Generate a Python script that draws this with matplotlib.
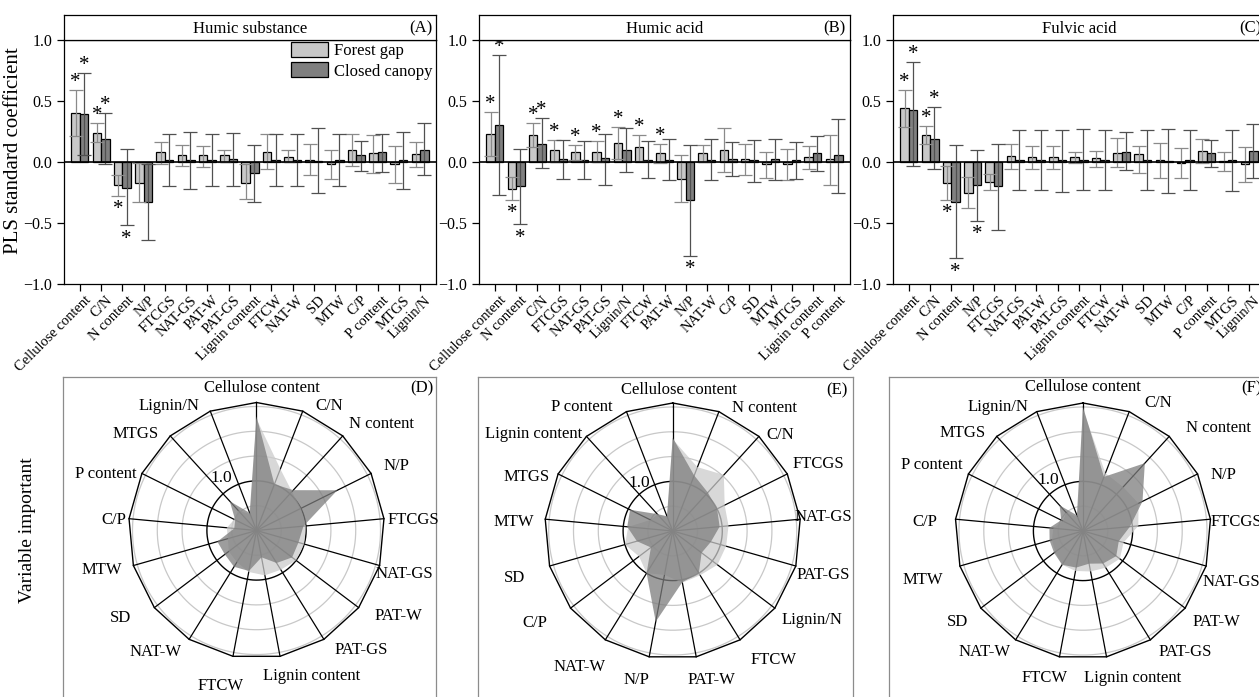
import matplotlib
matplotlib.use('Agg')
import matplotlib.pyplot as plt
import matplotlib.transforms as mtransforms
import numpy as np
from matplotlib.patches import Patch

plt.rcParams['font.family'] = ['Liberation Serif', 'DejaVu Serif']
plt.rcParams['axes.unicode_minus'] = True

# ---------------- data ----------------
cats_A = ['Cellulose content', 'C/N', 'N content', 'N/P', 'FTCGS', 'NAT-GS', 'PAT-W', 'PAT-GS',
          'Lignin content', 'FTCW', 'NAT-W', 'SD', 'MTW', 'C/P', 'P content', 'MTGS', 'Lignin/N']
A_fg = [0.40, 0.24, -0.19, -0.17, 0.08, 0.06, 0.055, 0.06, -0.17, 0.085, 0.045, 0.02, -0.015, 0.10, 0.07, -0.015, 0.065]
A_fg_hi = [0.59, 0.32, -0.11, -0.01, 0.16, 0.14, 0.13, 0.10, -0.02, 0.23, 0.10, 0.15, 0.10, 0.23, 0.22, 0.13, 0.16]
A_fg_lo = [0.21, 0.16, -0.28, -0.33, -0.02, -0.03, -0.04, 0.00, -0.30, -0.06, 0.00, -0.11, -0.14, -0.03, -0.09, -0.17, -0.04]
A_cc = [0.39, 0.19, -0.21, -0.33, 0.02, 0.02, 0.02, 0.025, -0.09, 0.02, 0.02, 0.01, 0.02, 0.06, 0.08, 0.02, 0.10]
A_cc_hi = [0.73, 0.40, 0.11, -0.02, 0.23, 0.25, 0.23, 0.24, 0.14, 0.23, 0.23, 0.28, 0.23, 0.17, 0.23, 0.25, 0.32]
A_cc_lo = [0.06, -0.02, -0.52, -0.64, -0.20, -0.22, -0.20, -0.20, -0.33, -0.20, -0.20, -0.25, -0.20, -0.07, -0.08, -0.22, -0.11]
A_fg_sig = [1, 1, 1, 0, 0, 0, 0, 0, 0, 0, 0, 0, 0, 0, 0, 0, 0]
A_cc_sig = [1, 1, 1, 0, 0, 0, 0, 0, 0, 0, 0, 0, 0, 0, 0, 0, 0]

cats_B = ['Cellulose content', 'N content', 'C/N', 'FTCGS', 'NAT-GS', 'PAT-GS', 'Lignin/N', 'FTCW',
          'PAT-W', 'N/P', 'NAT-W', 'C/P', 'SD', 'MTW', 'MTGS', 'Lignin content', 'P content']
B_fg = [0.23, -0.22, 0.225, 0.10, 0.08, 0.08, 0.155, 0.12, 0.07, -0.14, 0.075, 0.10, 0.025, -0.02, -0.02, 0.045, 0.025]
B_fg_hi = [0.41, -0.12, 0.32, 0.18, 0.14, 0.17, 0.29, 0.225, 0.15, 0.06, 0.14, 0.28, 0.15, 0.08, 0.11, 0.135, 0.225]
B_fg_lo = [0.05, -0.31, 0.12, 0.0, 0.02, 0.0, 0.025, 0.01, -0.01, -0.33, 0.0, -0.08, -0.11, -0.13, -0.15, -0.055, -0.19]
B_cc = [0.30, -0.20, 0.15, 0.025, 0.015, 0.03, 0.10, 0.02, 0.02, -0.31, 0.02, 0.025, 0.015, 0.025, 0.02, 0.07, 0.06]
B_cc_hi = [0.88, 0.11, 0.36, 0.18, 0.17, 0.23, 0.28, 0.17, 0.19, 0.14, 0.19, 0.165, 0.18, 0.19, 0.165, 0.21, 0.355]
B_cc_lo = [-0.27, -0.51, -0.05, -0.14, -0.14, -0.19, -0.08, -0.13, -0.15, -0.77, -0.15, -0.115, -0.165, -0.15, -0.14, -0.07, -0.255]
B_fg_sig = [1, 1, 1, 1, 1, 1, 1, 1, 1, 0, 0, 0, 0, 0, 0, 0, 0]
B_cc_sig = [1, 1, 1, 0, 0, 0, 0, 0, 0, 1, 0, 0, 0, 0, 0, 0, 0]

cats_C = cats_A
C_fg = [0.44, 0.22, -0.17, -0.25, -0.165, 0.05, 0.04, 0.04, 0.04, 0.03, 0.075, 0.065, 0.015, -0.01, 0.09, 0.01, -0.015]
C_fg_hi = [0.59, 0.295, -0.035, -0.12, -0.10, 0.145, 0.13, 0.13, 0.08, 0.09, 0.20, 0.13, 0.155, 0.115, 0.19, 0.08, 0.125]
C_fg_lo = [0.29, 0.15, -0.31, -0.38, -0.23, -0.055, -0.06, -0.055, -0.01, -0.04, -0.04, -0.09, -0.135, -0.135, -0.01, -0.075, -0.16]
C_cc = [0.43, 0.19, -0.33, -0.19, -0.20, 0.02, 0.02, 0.015, 0.02, 0.02, 0.085, 0.02, 0.01, 0.02, 0.07, 0.015, 0.09]
C_cc_hi = [0.82, 0.45, 0.14, 0.10, 0.15, 0.26, 0.26, 0.26, 0.27, 0.26, 0.25, 0.26, 0.27, 0.26, 0.18, 0.26, 0.315]
C_cc_lo = [-0.035, -0.06, -0.79, -0.48, -0.56, -0.23, -0.23, -0.245, -0.23, -0.23, -0.065, -0.23, -0.25, -0.23, -0.045, -0.24, -0.135]
C_fg_sig = [1, 1, 1, 0, 0, 0, 0, 0, 0, 0, 0, 0, 0, 0, 0, 0, 0]
C_cc_sig = [1, 1, 1, 1, 0, 0, 0, 0, 0, 0, 0, 0, 0, 0, 0, 0, 0]

# VIP (radar) values, same category order as the bar panel above each
D_fg = [2.25, 1.33, 1.06, 1.0, 1.0, 1.0, 1.0, 0.93, 0.92, 0.85, 0.75, 0.7, 0.6, 0.6, 0.5, 0.55, 0.35]
D_cc = [2.3, 1.0, 1.1, 1.82, 0.95, 0.88, 0.9, 0.77, 0.55, 0.83, 0.86, 0.8, 0.82, 0.45, 0.48, 0.8, 0.38]
E_fg = [1.85, 1.38, 1.53, 1.17, 1.13, 1.12, 1.13, 1.05, 1.06, 0.9, 1.0, 0.85, 1.0, 0.9, 0.5, 0.45, 0.3]
E_cc = [1.88, 1.2, 1.05, 1.0, 0.95, 0.8, 0.73, 1.0, 1.05, 1.86, 1.0, 0.55, 0.75, 0.92, 0.96, 0.46, 0.32]
F_fg = [2.45, 1.25, 1.2, 1.25, 1.12, 0.85, 0.93, 0.87, 0.83, 0.82, 0.8, 0.7, 0.65, 0.6, 0.45, 0.5, 0.3]
F_cc = [2.5, 1.17, 1.85, 1.34, 0.95, 0.75, 0.84, 0.77, 0.67, 0.75, 0.8, 0.73, 0.7, 0.68, 0.49, 0.7, 0.34]

ytick_vals = [-1.0, -0.5, 0.0, 0.5, 1.0]
ytick_labels = ['\u22121.0', '\u22120.5', '0.0', '0.5', '1.0']

# ---------------- style ----------------
FG_C = '#c8c8c8'
CC_C = '#808080'
FG_E = '#8a8a8a'
CC_E = '#505050'
FG_R = '#cbcbcb'
CC_R = '#7d7d7d'

W, H = 1259, 697
fig = plt.figure(figsize=(W / 100, H / 100), dpi=100)


def add_axes_px(x0, y0, x1, y1, **kw):
    return fig.add_axes([x0 / W, 1 - y1 / H, (x1 - x0) / W, (y1 - y0) / H], **kw)


def bar_panel(box, cats, fg, fg_lo, fg_hi, cc, cc_lo, cc_hi, fg_sig, cc_sig, title, tag, legend=False):
    x0, y0, x1, y1 = box
    ax = add_axes_px(x0, y0, x1, y1)
    n = len(cats)
    x = np.arange(n)
    w = 0.4
    fg = np.array(fg); cc = np.array(cc)
    fg_lo = np.array(fg_lo); fg_hi = np.array(fg_hi)
    cc_lo = np.array(cc_lo); cc_hi = np.array(cc_hi)
    ax.bar(x - w / 2, fg, w, color=FG_C, edgecolor='black', linewidth=0.9, zorder=2, label='Forest gap')
    ax.bar(x + w / 2, cc, w, color=CC_C, edgecolor='black', linewidth=0.9, zorder=2, label='Closed canopy')
    ax.errorbar(x - w / 2, fg, yerr=[np.abs(fg - fg_lo), np.abs(fg_hi - fg)], fmt='none', ecolor=FG_E,
                elinewidth=0.9, capsize=5, capthick=0.9, zorder=3)
    ax.errorbar(x + w / 2, cc, yerr=[np.abs(cc - cc_lo), np.abs(cc_hi - cc)], fmt='none', ecolor=CC_E,
                elinewidth=0.9, capsize=5, capthick=0.9, zorder=3)
    ax.axhline(0, color='black', lw=1.2, zorder=4)
    for xs, vals, lo, hi, sig in [(x - w / 2, fg, fg_lo, fg_hi, fg_sig), (x + w / 2, cc, cc_lo, cc_hi, cc_sig)]:
        for xi, v, l, h, s in zip(xs, vals, lo, hi, sig):
            if s:
                if v >= 0:
                    ax.text(xi, h + 0.025, '*', ha='center', va='baseline', fontsize=15, zorder=5)
                else:
                    ax.text(xi, l - 0.15, '*', ha='center', va='baseline', fontsize=15, zorder=5)
    ax.set_xlim(-0.75, n - 0.25)
    ax.set_ylim(-1, 1)
    ax.set_yticks(ytick_vals)
    ax.set_yticklabels(ytick_labels)
    ax.set_xticks(x)
    ax.set_xticklabels(cats, rotation=45, ha='right', va='top', rotation_mode='anchor', fontsize=10.5)
    ax.tick_params(direction='out', length=5, width=0.9, labelsize=11.5)
    ax.tick_params(axis='x', labelsize=10.5, pad=2)
    shift = mtransforms.ScaledTranslation(0.045, 0, fig.dpi_scale_trans)
    for lab in ax.get_xticklabels():
        lab.set_transform(lab.get_transform() + shift)
    for s in ax.spines.values():
        s.set_linewidth(0.9)
    if legend:
        handles = [Patch(facecolor=FG_C, edgecolor='black', linewidth=0.9, label='Forest gap'),
                   Patch(facecolor=CC_C, edgecolor='black', linewidth=0.9, label='Closed canopy')]
        ax.legend(handles=handles, loc='upper left', bbox_to_anchor=((291 - x0) / (x1 - x0), 0.992),
                  frameon=False, fontsize=12, handlelength=2.2, handleheight=1.0, handletextpad=0.35,
                  labelspacing=0.2, borderpad=0, borderaxespad=0)
    hx = add_axes_px(x0, 15, x1, y0)
    hx.set_xticks([]); hx.set_yticks([])
    for s in hx.spines.values():
        s.set_linewidth(0.9)
    hx.text(0.5, 0.45, title, ha='center', va='center', fontsize=12, transform=hx.transAxes)
    hx.text((x1 - x0 - 4) / (x1 - x0), 0.45, tag, ha='right', va='center', fontsize=12, transform=hx.transAxes)
    return ax


bar_panel((64, 40, 436, 284), cats_A, A_fg, A_fg_lo, A_fg_hi, A_cc, A_cc_lo, A_cc_hi, A_fg_sig, A_cc_sig,
          'Humic substance', '(A)', legend=True)
bar_panel((479, 40, 850, 284), cats_B, B_fg, B_fg_lo, B_fg_hi, B_cc, B_cc_lo, B_cc_hi, B_fg_sig, B_cc_sig,
          'Humic acid', '(B)')
bar_panel((893, 40, 1265, 284), cats_C, C_fg, C_fg_lo, C_fg_hi, C_cc, C_cc_lo, C_cc_hi, C_fg_sig, C_cc_sig,
          'Fulvic acid', '(C)')

RMAX = 2.58
RPX = 128


def radar_panel(box, center, cats, fg, cc, offsets, tag, tagpos, onepos):
    bx = add_axes_px(*box)
    bx.set_xticks([]); bx.set_yticks([])
    bx.patch.set_alpha(0)
    for s in bx.spines.values():
        s.set_color('#8c8c8c'); s.set_linewidth(0.9)
    cx, cy = center
    ax = add_axes_px(cx - RPX, cy - RPX, cx + RPX, cy + RPX, projection='polar')
    ax.set_theta_zero_location('N')
    ax.set_theta_direction(-1)
    ax.set_ylim(0, RMAX)
    ax.axis('off')
    n = len(cats)
    th = np.arange(n) * 2 * np.pi / n
    tt = np.linspace(0, 2 * np.pi, 400)
    for r in [0.5, 1.5, 2.0, 2.5]:
        ax.plot(tt, np.full_like(tt, r), color='#c8c8c8', lw=0.9, zorder=1, clip_on=False)
    ax.plot(tt, np.ones_like(tt), color='black', lw=1.0, zorder=2, clip_on=False)
    for t in th:
        ax.plot([t, t], [0, RMAX], color='black', lw=0.9, zorder=2, clip_on=False)
    ax.plot(np.append(th, th[0]), np.full(n + 1, RMAX), color='black', lw=1.0, zorder=2, clip_on=False)
    ax.fill(np.append(th, th[0]), np.append(fg, fg[0]), color=FG_R, alpha=0.75, lw=0, zorder=3)
    ax.fill(np.append(th, th[0]), np.append(cc, cc[0]), color=CC_R, alpha=0.75, lw=0, zorder=4)
    for lab, (dx, dy) in zip(cats, offsets):
        ax.text(0.5 + dx / (2 * RPX), 0.5 - dy / (2 * RPX), lab, transform=ax.transAxes,
                ha='center', va='center', fontsize=12, zorder=6)
    ax.text(0.5 + onepos[0] / (2 * RPX), 0.5 - onepos[1] / (2 * RPX), '1.0', transform=ax.transAxes,
            ha='center', va='center', fontsize=12.5, zorder=6)
    fig.text(tagpos[0] / W, 1 - tagpos[1] / H, tag, ha='center', va='center', fontsize=12)


off_D = [(5, -142), (73, -125), (125, -106), (140, -65), (157, -10), (148, 43), (142, 85), (105, 119),
         (55, 146), (-36, 156), (-101, 121), (-136, 88), (-155, 40), (-143, -10), (-151, -57), (-121, -97), (-88, -125)]
off_E = [(6, -141), (92, -123), (107, -96), (146, -67), (151, -14), (151, 44), (139, 89), (101, 129),
         (39, 149), (-36, 149), (-93, 136), (-138, 92), (-158, 47), (-159, -9), (-146, -54), (-139, -97), (-91, -124)]
off_F = [(0, -144), (75, -128), (135, -103), (140, -56), (153, -9), (148, 51), (133, 91), (102, 121),
         (50, 147), (-38, 147), (-98, 121), (-126, 91), (-160, 49), (-158, -9), (-151, -66), (-120, -98), (-85, -124)]

radar_panel((63, 377, 436, 705), (256.5, 530.5), cats_A, D_fg, D_cc, off_D, '(D)', (421.7, 388), (-35.5, -53))
radar_panel((478, 377, 853, 705), (672.7, 531), cats_B, E_fg, E_cc, off_E, '(E)', (836.7, 390), (-33.4, -48.3))
radar_panel((889, 377, 1265, 705), (1083, 531), cats_C, F_fg, F_cc, off_F, '(F)', (1251.7, 388), (-34.7, -51))

fig.text(14 / W, 1 - 151 / H, 'PLS standard coefficient', rotation=90, ha='center', va='center', fontsize=15)
fig.text(28 / W, 1 - 530 / H, 'Variable important', rotation=90, ha='center', va='center', fontsize=14)

fig.savefig('out.png', dpi=100)
